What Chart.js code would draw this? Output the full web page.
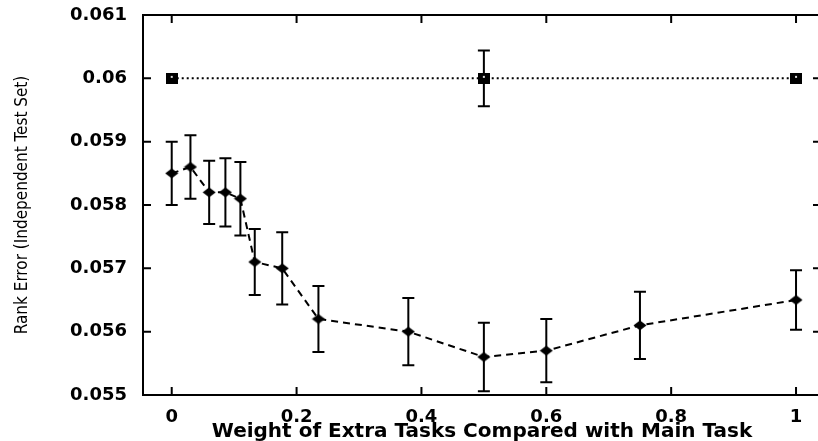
<!DOCTYPE html>
<html>
<head>
<meta charset="utf-8">
<script src="https://cdn.jsdelivr.net/npm/chart.js@4.4.1/dist/chart.umd.min.js"></script>
<style>
  html, body { margin: 0; padding: 0; background: #fff; overflow: hidden; }
  #chart-rank { display: block; }
</style>
</head>
<body>
<canvas id="chart-rank" width="829" height="441"></canvas>
<script>
// Weight of extra tasks vs rank error (diamonds, dashed)
const weights = [0, 0.03, 0.06, 0.086, 0.11, 0.133, 0.177, 0.235, 0.379, 0.5, 0.6, 0.75, 1];
const rankError = [0.0585, 0.0586, 0.0582, 0.0582, 0.0581, 0.0571, 0.0570, 0.0562, 0.0560, 0.0556, 0.0557, 0.0561, 0.0565];
const rankErrorDev = [0.0005, 0.0005, 0.0005, 0.00054, 0.00058, 0.00052, 0.00057, 0.00052, 0.00053, 0.00054, 0.0005, 0.00053, 0.00047];

// Reference level (squares, dotted)
const baseWeights = [0, 0.5, 1];
const baseError = [0.06, 0.06, 0.06];
const baseErrorDev = [0, 0.00044, 0];

const xTicks = [0, 0.2, 0.4, 0.6, 0.8, 1];
const yTicks = [0.055, 0.056, 0.057, 0.058, 0.059, 0.06, 0.061];

const BLACK = '#000';

function diamondMarker() {
  const c = document.createElement('canvas');
  c.width = 14; c.height = 11;
  const g = c.getContext('2d');
  g.fillStyle = BLACK;
  g.beginPath();
  g.moveTo(7, 0.5); g.lineTo(13.5, 5.5); g.lineTo(7, 10.5); g.lineTo(0.5, 5.5);
  g.closePath();
  g.fill();
  return c;
}

function squareMarker() {
  const c = document.createElement('canvas');
  c.width = 12; c.height = 11;
  const g = c.getContext('2d');
  g.fillStyle = BLACK;
  g.fillRect(0, 0, 12, 11);
  g.fillStyle = '#ddd';
  g.fillRect(5, 3, 2, 2);
  return c;
}

// error bars + gnuplot-like frame with inward ticks
const gnuplotFrame = {
  id: 'gnuplotFrame',
  beforeDatasetsDraw(chart) {
    const { ctx, chartArea: a, scales: { x, y } } = chart;
    ctx.save();
    ctx.strokeStyle = BLACK;
    ctx.lineWidth = 2;
    ctx.strokeRect(a.left, a.top, a.right - a.left, a.bottom - a.top);

    const tick = 8;
    ctx.beginPath();
    xTicks.forEach(v => {
      const px = x.getPixelForValue(v);
      ctx.moveTo(px, a.bottom); ctx.lineTo(px, a.bottom - tick);
      ctx.moveTo(px, a.top); ctx.lineTo(px, a.top + tick);
    });
    yTicks.forEach(v => {
      const py = y.getPixelForValue(v);
      ctx.moveTo(a.left, py); ctx.lineTo(a.left + tick, py);
      ctx.moveTo(a.right, py); ctx.lineTo(a.right - tick, py);
    });
    ctx.stroke();

    // error bars
    const cap = 6;
    chart.data.datasets.forEach(ds => {
      if (!ds.errors) return;
      ds.data.forEach((p, i) => {
        const d = ds.errors[i];
        if (!d) return;
        const px = x.getPixelForValue(p.x);
        const top = y.getPixelForValue(p.y + d);
        const bot = y.getPixelForValue(p.y - d);
        ctx.beginPath();
        ctx.moveTo(px, top); ctx.lineTo(px, bot);
        ctx.moveTo(px - cap, top); ctx.lineTo(px + cap, top);
        ctx.moveTo(px - cap, bot); ctx.lineTo(px + cap, bot);
        ctx.stroke();
      });
    });
    ctx.restore();
  }
};

const tickFont = { family: '"DejaVu Sans", sans-serif', size: 18, weight: 'bold' };

new Chart(document.getElementById('chart-rank'), {
  type: 'scatter',
  data: {
    datasets: [
      {
        label: 'Extra tasks',
        data: weights.map((w, i) => ({ x: w, y: rankError[i] })),
        errors: rankErrorDev,
        showLine: true,
        borderColor: BLACK,
        borderWidth: 2,
        borderDash: [7, 5],
        pointStyle: diamondMarker(),
        pointRadius: 6
      },
      {
        label: 'Main task only',
        data: baseWeights.map((w, i) => ({ x: w, y: baseError[i] })),
        errors: baseErrorDev,
        showLine: true,
        borderColor: BLACK,
        borderWidth: 2,
        borderDash: [2, 3],
        pointStyle: squareMarker(),
        pointRadius: 6
      }
    ]
  },
  options: {
    responsive: false,
    animation: false,
    layout: { padding: { top: 15, right: 3, bottom: 0, left: 0 } },
    plugins: { legend: { display: false }, tooltip: { enabled: false } },
    scales: {
      x: {
        type: 'linear',
        min: -0.046,
        max: 1.04,
        afterBuildTicks: s => { s.ticks = xTicks.map(v => ({ value: v })); },
        afterFit: s => { s.height = 46; s.paddingLeft = 0; s.paddingRight = 0; },
        grid: { display: false, drawTicks: false },
        border: { display: false },
        ticks: { color: BLACK, font: tickFont, padding: 12, maxRotation: 0, callback: v => String(v) },
        title: {
          display: true,
          text: 'Weight of Extra Tasks Compared with Main Task',
          color: BLACK,
          font: { family: '"DejaVu Sans", sans-serif', size: 20, weight: 'bold', lineHeight: 1.1 },
          padding: { top: 0, bottom: -2 }
        }
      },
      y: {
        type: 'linear',
        min: 0.055,
        max: 0.061,
        afterBuildTicks: s => { s.ticks = yTicks.map(v => ({ value: v })); },
        afterFit: s => { s.width = 143; s.paddingTop = 0; s.paddingBottom = 0; },
        grid: { display: false, drawTicks: false },
        border: { display: false },
        ticks: { color: BLACK, font: tickFont, padding: 16, callback: v => String(+v.toFixed(3)) },
        title: {
          display: true,
          text: 'Rank Error (Independent Test Set)',
          color: BLACK,
          font: { family: '"DejaVu Sans Condensed", "Liberation Sans", sans-serif', size: 17, lineHeight: 1.2 },
          padding: { top: 12, bottom: 0 }
        }
      }
    }
  },
  plugins: [gnuplotFrame]
});
</script>
</body>
</html>
